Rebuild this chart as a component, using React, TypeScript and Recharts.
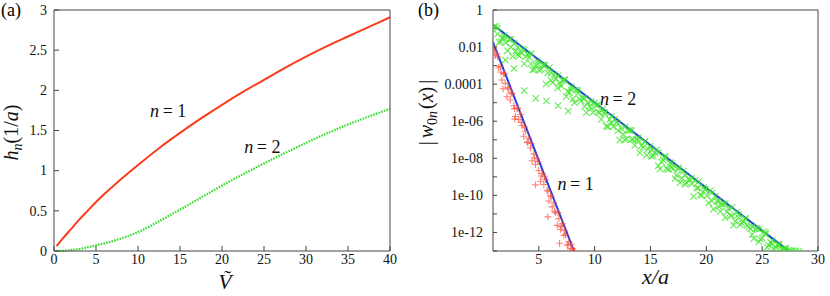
import React from "react";
import { ComposedChart, Line, Scatter, XAxis, YAxis, ReferenceDot } from "recharts";

// panel (a): h_n(1/a) against V~
const vTilde = [0.3, 1, 2, 3, 4, 5, 6, 7.5, 10, 12.5, 15, 17.5, 20, 22.5, 25, 27.5, 30, 32.5, 35, 37.5, 40];
const hN1 = [0.06, 0.15, 0.27, 0.39, 0.5, 0.61, 0.71, 0.85, 1.07, 1.28, 1.47, 1.65, 1.82, 1.98, 2.13, 2.28, 2.42, 2.55, 2.67, 2.79, 2.91];
const hN2 = [0, 0.002, 0.01, 0.025, 0.045, 0.07, 0.095, 0.14, 0.235, 0.37, 0.515, 0.665, 0.815, 0.955, 1.09, 1.22, 1.345, 1.465, 1.575, 1.675, 1.77];
const aXTicks = [0, 5, 10, 15, 20, 25, 30, 35, 40];
const aYTicks = [0, 0.5, 1, 1.5, 2, 2.5, 3];

// panel (b): |w_0n(x)| against x/a, log scale
const fitN1X = [0.9, 8.15];
const fitN1W = [0.0182, 1e-13];
const fitN2X = [0.9, 27.4];
const fitN2W = [0.158, 1e-13];

const ptsN2X = [
  1.0, 1.3, 1.6, 1.9, 2.2, 2.5, 2.8, 3.1, 3.4, 3.7, 4.0, 4.3, 4.6, 4.9, 5.2, 5.5, 5.8, 6.1, 6.4, 6.7,
  7.0, 7.3, 7.6, 7.9, 8.2, 8.5, 8.8, 9.1, 9.4, 9.7, 10.0, 10.3, 10.6, 10.9, 11.2, 11.5, 11.8, 12.1, 12.4, 12.7,
  13.0, 13.3, 13.6, 13.9, 14.2, 14.5, 14.8, 15.1, 15.4, 15.7, 16.0, 16.3, 16.6, 16.9, 17.2, 17.5, 17.8, 18.1, 18.4, 18.7,
  19.0, 19.3, 19.6, 19.9, 20.2, 20.5, 20.8, 21.1, 21.4, 21.7, 22.0, 22.3, 22.6, 22.9, 23.2, 23.5, 23.8, 24.1, 24.4, 24.7,
  25.0, 25.3, 25.6, 25.9, 26.2, 26.5, 26.8, 27.1, 27.4, 27.7, 28.0, 28.3,
  1.15, 1.75, 2.35, 2.95, 3.55, 4.15, 4.75, 5.35, 5.95, 6.55, 7.15, 7.75, 8.35, 8.95, 9.55, 10.15, 10.75, 11.35, 11.95, 12.55,
  13.15, 13.75, 14.35, 14.95, 15.55, 16.15, 16.75, 17.35, 17.95, 18.55, 19.15, 19.75, 20.35, 20.95, 21.55, 22.15, 22.75, 23.35, 23.95, 24.55,
  25.15, 25.75, 26.35, 26.95, 27.55,
  1.45, 2.05, 2.65, 3.25, 3.85, 4.45, 5.05, 5.65, 6.25, 6.85, 7.45, 8.05, 8.65, 9.25, 9.85, 10.45, 11.05, 11.65, 12.25, 12.85,
  13.45, 14.05, 14.65, 15.25, 15.85, 16.45, 17.05, 17.65, 18.25, 18.85, 19.45, 20.05, 20.65, 21.25, 21.85, 22.45, 23.05, 23.65, 24.25, 24.85,
  25.45, 26.05, 26.65,
  1.3, 1.9, 2.5, 3.1, 3.7, 4.3, 4.9, 5.5, 6.1, 6.7, 7.3, 7.9, 8.5, 9.1, 9.7, 10.3, 10.9, 11.5, 12.1, 12.7,
  13.3, 13.9, 14.5, 15.1, 15.7, 16.3, 16.9, 17.5, 18.1, 18.7, 19.3, 19.9, 20.5, 21.1, 21.7, 22.3, 22.9, 23.5, 24.1, 24.7,
  25.3, 25.9, 26.5, 27.1,
  2.0, 2.78, 3.7, 4.73, 5.69, 6.73, 7.63,
];
const ptsN2W = [
  0.126, 5.0e-2, 2.0e-2, 3.16e-2, 6.3e-3, 1e-2, 1.58e-2, 3.98e-3, 5.0e-3, 1.26e-3, 3.98e-3, 1.26e-3, 6.3e-4, 1.26e-3, 6.3e-4, 1e-3, 3.98e-4, 1.58e-4, 3.16e-4, 6.3e-5,
  7.9e-5, 1.58e-4, 3.98e-5, 5.0e-5, 1e-5, 3.16e-5, 1.26e-5, 6.3e-6, 1e-5, 5.0e-6, 1e-5, 3.16e-6, 1.26e-6, 2.51e-6, 5.0e-7, 7.9e-7, 1.26e-6, 3.16e-7, 3.98e-7, 1e-7,
  3.16e-7, 1e-7, 5.0e-8, 9e-8, 4.8e-8, 7.9e-8, 3.16e-8, 1.26e-8, 2.0e-8, 3.98e-9, 6.3e-9, 1e-8, 2.51e-9, 3.16e-9, 7.9e-10, 2.51e-9, 8.5e-10, 3.98e-10, 7.9e-10, 4.2e-10,
  6.3e-10, 2.51e-10, 1e-10, 2.0e-10, 3.98e-11, 5.0e-11, 9e-11, 2.51e-11, 3.16e-11, 6.3e-12, 2.0e-11, 7.9e-12, 3.98e-12, 6.3e-12, 3.16e-12, 5.6e-12, 2.0e-12, 7.9e-13, 1.58e-12, 3.16e-13,
  5.0e-13, 7.9e-13, 2.0e-13, 2.51e-13, 1.58e-13, 2.0e-13, 1.26e-13, 1.26e-13, 1.1e-13, 1.05e-13, 1.02e-13, 1.0e-13,
  1.26e-1, 3.16e-2, 2.51e-2, 6.3e-3, 7.9e-3, 2.8e-3, 1e-3, 1.1e-3, 7.9e-4, 2.0e-4, 1.58e-4, 3.5e-5, 5.0e-5, 1.8e-5, 6.3e-6, 6.9e-6, 4.7e-6, 1.26e-6, 9.3e-7, 2.0e-7,
  3.2e-7, 1.1e-7, 3.98e-8, 4.4e-8, 2.9e-8, 7.9e-9, 5.8e-9, 1.26e-9, 2.0e-9, 6.8e-10, 2.51e-10, 2.7e-10, 1.8e-10, 4.8e-11, 3.5e-11, 8.3e-12, 1.26e-11, 4.2e-12, 1.58e-12, 1.7e-12,
  1.1e-12, 2.9e-13, 2.2e-13, 1.3e-13, 1.0e-13,
  1.78e-2, 1.66e-2, 3.16e-3, 3.3e-3, 3.1e-3, 5.9e-4, 5.5e-4, 1.02e-4, 1.23e-4, 1.15e-4, 2.2e-5, 1.6e-5, 1.55e-5, 2.9e-6, 3.0e-6, 2.9e-6, 5.4e-7, 5.1e-7, 9.5e-8, 1.12e-7,
  1.07e-7, 2.0e-8, 1.5e-8, 1.4e-8, 2.6e-9, 2.8e-9, 2.7e-9, 5.0e-10, 4.7e-10, 8.7e-11, 1.05e-10, 9.8e-11, 1.8e-11, 1.38e-11, 1.29e-11, 2.45e-12, 2.6e-12, 2.4e-12, 4.6e-13, 4.3e-13,
  1.6e-13, 1.35e-13, 1.1e-13,
  1.05e-1, 4.2e-2, 2.6e-2, 9.8e-3, 6.8e-3, 4.4e-3, 1.74e-3, 1.07e-3, 4.1e-4, 2.8e-4, 1.8e-4, 7.2e-5, 4.5e-5, 1.7e-5, 1.17e-5, 7.6e-6, 3.0e-6, 1.86e-6, 7.1e-7, 4.9e-7,
  3.16e-7, 1.26e-7, 7.8e-8, 2.95e-8, 2.0e-8, 1.3e-8, 5.2e-9, 3.2e-9, 1.23e-9, 8.5e-10, 5.5e-10, 2.2e-10, 1.35e-10, 5.1e-11, 3.5e-11, 2.3e-11, 9.1e-12, 5.6e-12, 2.1e-12, 1.48e-12,
  9.5e-13, 3.8e-13, 2.3e-13, 1.41e-13,
  2e-3, 7e-4, 4.5e-5, 1.7e-5, 1.26e-5, 6.9e-6, 3.5e-6,
];

const ptsN1X = [
  0.95, 1.1, 1.25, 1.4, 1.55, 1.7, 1.85, 2.0, 2.15, 2.3, 2.45, 2.6, 2.75, 2.9, 3.05, 3.2, 3.35, 3.5, 3.65, 3.8,
  3.95, 4.1, 4.25, 4.4, 4.55, 4.7, 4.85, 5.0, 5.15, 5.3, 5.45, 5.6, 5.75, 5.9, 6.05, 6.2, 6.35, 6.5, 6.65, 6.8,
  6.95, 7.1, 7.25, 7.4, 7.55, 7.7, 7.85, 8.0, 8.2,
  1.02, 1.32, 1.62, 1.92, 2.22, 2.52, 2.82, 3.12, 3.42, 3.72, 4.02, 4.32, 4.62, 4.92, 5.22, 5.52, 5.82, 6.12, 6.42, 6.72,
  7.02, 7.32, 7.62, 7.92,
  1.8, 2.85, 4.71, 5.81, 6.86,
];
const ptsN1W = [
  1.07e-2, 3.5e-3, 4.2e-3, 7.6e-4, 8.9e-4, 1.66e-4, 3.8e-4, 1.1e-4, 2.1e-5, 5.5e-5, 1.4e-5, 3.0e-5, 6.9e-6, 1.8e-6, 4.7e-6, 1.23e-6, 2.3e-6, 5.9e-7, 1.55e-7, 2.9e-7,
  7.4e-8, 1.23e-7, 3.6e-8, 7.4e-9, 1.74e-8, 4.6e-9, 9.5e-9, 2.2e-9, 5.8e-10, 1.5e-9, 3.9e-10, 7.2e-10, 1.9e-10, 5.0e-11, 9.1e-11, 2.4e-11, 4.0e-11, 1.15e-11, 2.4e-12, 5.6e-12,
  1.45e-12, 3.0e-12, 7.1e-13, 7.4e-13, 2.1e-13, 3.2e-13, 1.3e-13, 1.35e-13, 1.0e-13,
  5.9e-3, 2.9e-3, 4.4e-4, 3.6e-4, 6.5e-5, 3.5e-5, 4.8e-6, 5.1e-6, 8.9e-7, 4.8e-7, 7.2e-8, 6.3e-8, 1.07e-8, 6.6e-9, 1.12e-9, 9.8e-10, 1.66e-10, 8.9e-11, 1.38e-11, 1.17e-11,
  2.0e-12, 1.23e-12, 2.1e-13, 2.3e-13,
  5.6e-5, 1.3e-6, 3.7e-10, 6.9e-12, 2.6e-13,
];

const bXTicks = [5, 10, 15, 20, 25, 30];
const bYTicks = [1, 1e-1, 1e-2, 1e-3, 1e-4, 1e-5, 1e-6, 1e-7, 1e-8, 1e-9, 1e-10, 1e-11, 1e-12, 1e-13];
// labels by decade exponent, every second decade is labelled
const bYLabels: Record<number, string> = {
  0: "1", [-2]: "0.01", [-4]: "0.0001", [-6]: "1e-06", [-8]: "1e-08", [-10]: "1e-10", [-12]: "1e-12",
};

const SERIF = "Liberation Serif";
const FRAME = "#444";
const tickStyle = { fill: "#111", fontSize: 14, fontFamily: SERIF };

const curveA = vTilde.map((x, i) => ({ x, h1: hN1[i], h2: hN2[i] }));
const fit1 = fitN1X.map((x, i) => ({ x, y: fitN1W[i] }));
const fit2 = fitN2X.map((x, i) => ({ x, y: fitN2W[i] }));
const scat2 = ptsN2X.map((x, i) => ({ x, y: ptsN2W[i] }));
const scat1 = ptsN1X.map((x, i) => ({ x, y: ptsN1W[i] }));

const logLabel = (v: any) => {
  const n = Number(v);
  if (!(n > 0)) return "";
  return bYLabels[Math.round(Math.log10(n))] ?? "";
};

// tick labels drawn as plain svg text so the serif face sticks
const BottomTick = (p: any) => (
  <text x={p.x} y={p.y} dy="0.72em" textAnchor="middle" fontFamily={SERIF} fontSize={14} fill="#111">
    {p.payload.value}
  </text>
);
const LeftTick = (p: any) => (
  <text x={p.x} y={p.y} dy="0.34em" textAnchor="end" fontFamily={SERIF} fontSize={14} fill="#111">
    {p.payload.value}
  </text>
);

const XMark = (p: any) => {
  const { cx, cy } = p;
  if (cx == null || cy == null) return <g />;
  const s = 3.2;
  return (
    <path
      d={`M${cx - s},${cy - s}L${cx + s},${cy + s}M${cx - s},${cy + s}L${cx + s},${cy - s}`}
      stroke="#3fe52a"
      strokeOpacity={0.8}
      strokeWidth={1.1}
      fill="none"
    />
  );
};

const PlusMark = (p: any) => {
  const { cx, cy } = p;
  if (cx == null || cy == null) return <g />;
  const s = 3.4;
  return (
    <path
      d={`M${cx - s},${cy}L${cx + s},${cy}M${cx},${cy - s}L${cx},${cy + s}`}
      stroke="#ff4a3a"
      strokeOpacity={0.7}
      strokeWidth={1.1}
      fill="none"
    />
  );
};

const NLabel = (n: string) => (p: any) => (
  <text x={p.cx} y={p.cy + 6} textAnchor="middle" fontFamily={SERIF} fontSize={18} fill="#111">
    <tspan fontStyle="italic">n</tspan>
    <tspan>{"\u2009= " + n}</tspan>
  </text>
);

const HLabel = (p: any) => {
  const vb = p.viewBox;
  const x = 18;
  const y = vb.y + vb.height / 2 + 2;
  return (
    <text x={x} y={y} transform={`rotate(-90 ${x} ${y})`} textAnchor="middle" fontFamily={SERIF} fontSize={20} fill="#111">
      <tspan fontStyle="italic">h</tspan>
      <tspan fontStyle="italic" fontSize={14} dy={4}>n</tspan>
      <tspan dy={-4}>(1/</tspan>
      <tspan fontStyle="italic">a</tspan>
      <tspan>)</tspan>
    </text>
  );
};

const VLabel = (p: any) => {
  const vb = p.viewBox;
  return (
    <text x={vb.x + vb.width / 2 + 3} y={vb.y + 38} textAnchor="middle" fontFamily={SERIF} fontSize={22} fontStyle="italic" fill="#111">
      {"V\u0303"}
    </text>
  );
};

const WLabel = (p: any) => {
  const vb = p.viewBox;
  const x = vb.x + 18;
  const y = vb.y + vb.height / 2 - 18;
  return (
    <text x={x} y={y} transform={`rotate(-90 ${x} ${y})`} textAnchor="middle" fontFamily={SERIF} fontSize={20} fill="#111">
      <tspan>|</tspan>
      <tspan fontStyle="italic" dx={3}>w</tspan>
      <tspan fontSize={14} dy={4}>0</tspan>
      <tspan fontSize={14} fontStyle="italic">n</tspan>
      <tspan dy={-4} dx={2}>(</tspan>
      <tspan fontStyle="italic">x</tspan>
      <tspan>)</tspan>
      <tspan dx={3}>|</tspan>
    </text>
  );
};

const XALabel = (p: any) => {
  const vb = p.viewBox;
  return (
    <text x={vb.x + vb.width / 2} y={vb.y + 33} textAnchor="middle" fontFamily={SERIF} fontSize={22} fontStyle="italic" fill="#111">
      x/a
    </text>
  );
};

function PanelA() {
  return (
    <ComposedChart width={415} height={296} data={curveA} margin={{ top: 9, right: 24, bottom: 0, left: 0 }}>
      <XAxis xAxisId="b" type="number" dataKey="x" domain={[0, 40]} ticks={aXTicks} height={45}
        tickSize={-5} tickMargin={8} stroke={FRAME} tick={BottomTick} label={{ content: VLabel }} />
      <XAxis xAxisId="t" orientation="top" type="number" dataKey="x" domain={[0, 40]} ticks={aXTicks} height={1}
        tickSize={-5} tick={false} stroke={FRAME} />
      <YAxis yAxisId="l" type="number" domain={[0, 3]} ticks={aYTicks} width={54}
        tickSize={-5} tickMargin={12} stroke={FRAME} tick={LeftTick} label={{ content: HLabel }} />
      <YAxis yAxisId="r" orientation="right" type="number" domain={[0, 3]} ticks={aYTicks} width={1}
        tickSize={-5} tick={false} stroke={FRAME} />
      <Line xAxisId="b" yAxisId="l" type="monotone" dataKey="h1" stroke="#fa3c1c" strokeWidth={2}
        dot={false} isAnimationActive={false} />
      <Line xAxisId="b" yAxisId="l" type="monotone" dataKey="h2" stroke="#33e02a" strokeWidth={2.2}
        strokeDasharray="1.6 1.2" dot={false} isAnimationActive={false} />
      <ReferenceDot xAxisId="b" yAxisId="l" x={13.6} y={1.74} r={0} shape={NLabel("1")} />
      <ReferenceDot xAxisId="b" yAxisId="l" x={24.8} y={1.29} r={0} shape={NLabel("2")} />
    </ComposedChart>
  );
}

function PanelB() {
  return (
    <ComposedChart width={415} height={296} margin={{ top: 9, right: 11, bottom: 0, left: 0 }}>
      <XAxis xAxisId="b" type="number" dataKey="x" domain={[0.9, 30]} ticks={bXTicks} height={45}
        allowDataOverflow tickSize={-5} tickMargin={8} stroke={FRAME} tick={BottomTick} label={{ content: XALabel }} />
      <XAxis xAxisId="t" orientation="top" type="number" dataKey="x" domain={[0.9, 30]} ticks={bXTicks} height={1}
        allowDataOverflow tickSize={-5} tick={false} stroke={FRAME} />
      <YAxis yAxisId="l" type="number" scale="log" domain={[1e-13, 1]} ticks={bYTicks} width={78}
        allowDataOverflow tickSize={-4} tickMargin={14} stroke={FRAME} tick={tickStyle}
        tickFormatter={logLabel} label={{ content: WLabel }} />
      <YAxis yAxisId="r" orientation="right" type="number" scale="log" domain={[1e-13, 1]} ticks={bYTicks} width={1}
        allowDataOverflow tickSize={-4} tick={false} stroke={FRAME} />
      <Scatter xAxisId="b" yAxisId="l" data={scat2} dataKey="y" shape={XMark} isAnimationActive={false} />
      <Scatter xAxisId="b" yAxisId="l" data={scat1} dataKey="y" shape={PlusMark} isAnimationActive={false} />
      <Line xAxisId="b" yAxisId="l" data={fit2} dataKey="y" type="linear" stroke="#1d3ee0" strokeWidth={2}
        dot={false} isAnimationActive={false} />
      <Line xAxisId="b" yAxisId="l" data={fit1} dataKey="y" type="linear" stroke="#1d3ee0" strokeWidth={2}
        dot={false} isAnimationActive={false} />
      <ReferenceDot xAxisId="b" yAxisId="l" x={12.1} y={1.5e-5} r={0} shape={NLabel("2")} />
      <ReferenceDot xAxisId="b" yAxisId="l" x={8.3} y={4.3e-10} r={0} shape={NLabel("1")} />
    </ComposedChart>
  );
}

export default function App() {
  return (
    <div style={{ position: "absolute", left: 0, top: 0, width: 830, height: 296, background: "#fff", fontFamily: SERIF }}>
      <div style={{ display: "flex" }}>
        <PanelA />
        <PanelB />
      </div>
      <div style={{ position: "absolute", left: 1, top: 0, fontSize: 18 }}>(a)</div>
      <div style={{ position: "absolute", left: 418, top: 0, fontSize: 18 }}>(b)</div>
    </div>
  );
}
